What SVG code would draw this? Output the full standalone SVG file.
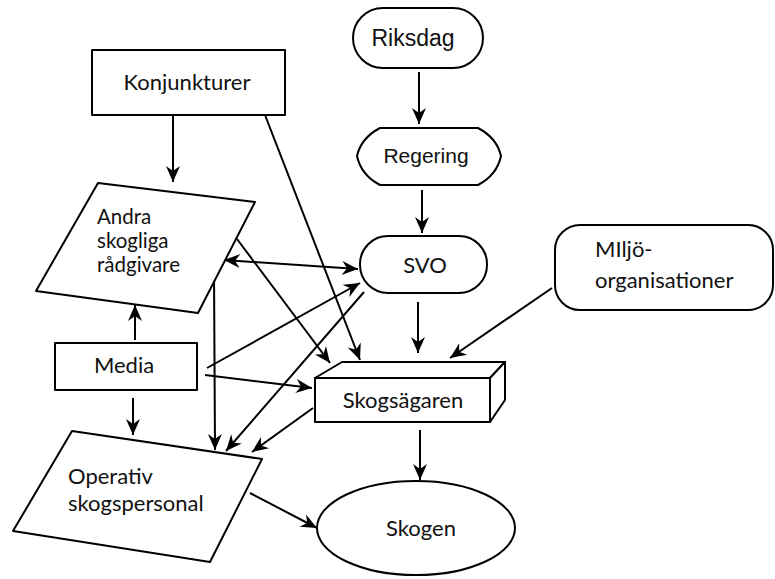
<svg xmlns="http://www.w3.org/2000/svg" width="775" height="579" viewBox="0 0 775 579">
<style>
.n{fill:#fff;stroke:#000;stroke-width:2;stroke-linejoin:round}
.t{font-family:Lato,"Open Sans","Liberation Sans",sans-serif;font-size:22px;fill:#111}
.s{font-size:20.5px}
.a{font-family:"Liberation Sans",Arial,sans-serif;fill:#111}
.c line{stroke:#000;stroke-width:2;marker-end:url(#ah)}
</style>
<defs>
<marker id="ah" markerUnits="userSpaceOnUse" viewBox="-17 -8 18 16" refX="0" refY="0" markerWidth="18" markerHeight="16" orient="auto-start-reverse">
<path d="M0,0 L-16,-7 L-11,0 L-16,7 Z" fill="#000"/>
</marker>
</defs>
<rect width="775" height="579" fill="#fff"/>
<g class="c">
<line x1="173" y1="115" x2="173" y2="182"/>
<line x1="419" y1="72" x2="419" y2="124"/>
<line x1="422" y1="190" x2="422" y2="233"/>
<line x1="418" y1="302" x2="418" y2="353"/>
<line x1="420" y1="430" x2="420" y2="480"/>
<line x1="552" y1="288" x2="450" y2="358"/>
<line x1="265" y1="115" x2="360" y2="360"/>
<line x1="237" y1="239" x2="330" y2="363"/>
<line x1="224" y1="260" x2="358" y2="269" style="marker-start:url(#ah)"/>
<line x1="207" y1="368" x2="360" y2="283"/>
<line x1="205" y1="375" x2="312" y2="388"/>
<line x1="364" y1="292" x2="226" y2="451"/>
<line x1="313" y1="408" x2="252" y2="452"/>
<line x1="214" y1="270" x2="215" y2="450"/>
<line x1="135" y1="340" x2="135" y2="305"/>
<line x1="133" y1="398" x2="133" y2="435"/>
<line x1="250" y1="493" x2="317" y2="528"/>
</g>
<g id="konjunkturer"><rect class="n" x="92" y="50" width="193" height="65"/><text class="t" x="187" y="90" text-anchor="middle">Konjunkturer</text></g>
<g id="riksdag"><rect class="n" x="353" y="8" width="130" height="60" rx="30"/><text class="a" x="413" y="46" font-size="23" text-anchor="middle">Riksdag</text></g>
<g id="regering"><path class="n" d="M380,128 L478,128 Q497,138 501,156 Q497,175 478,185 L380,185 Q361,175 357,156 Q361,138 380,128 Z"/><text class="a" x="426" y="163" font-size="21" text-anchor="middle">Regering</text></g>
<g id="svo"><rect class="n" x="360" y="236" width="127" height="57" rx="28"/><text class="t" x="425" y="273" text-anchor="middle">SVO</text></g>
<g id="miljo"><rect class="n" x="555" y="225" width="218" height="85" rx="25"/><text class="t" x="595" y="257">MIljö-</text><text class="t" x="595" y="288">organisationer</text></g>
<g id="andra"><polygon class="n" points="98,183 255,202 198,313 36,291"/><text class="t s" x="97" y="224">Andra</text><text class="t s" x="97" y="248">skogliga</text><text class="t s" x="97" y="272">rådgivare</text></g>
<g id="media"><rect class="n" x="55" y="343" width="142" height="47"/><text class="t" x="124" y="373" text-anchor="middle">Media</text></g>
<g id="skogsagaren"><polygon class="n" points="315,378 342,362 505,362 490,378"/><polygon class="n" points="490,378 505,362 505,400 490,422"/><rect class="n" x="315" y="378" width="175" height="44"/><text class="t" x="403" y="408" text-anchor="middle">Skogsägaren</text></g>
<g id="operativ"><polygon class="n" points="72,431 262,459 210,562 13,531"/><text class="t" x="68" y="484">Operativ</text><text class="t" x="68" y="511">skogspersonal</text></g>
<g id="skogen"><ellipse class="n" cx="416" cy="528" rx="99" ry="47"/><text class="t" x="421" y="536" text-anchor="middle">Skogen</text></g>
</svg>
